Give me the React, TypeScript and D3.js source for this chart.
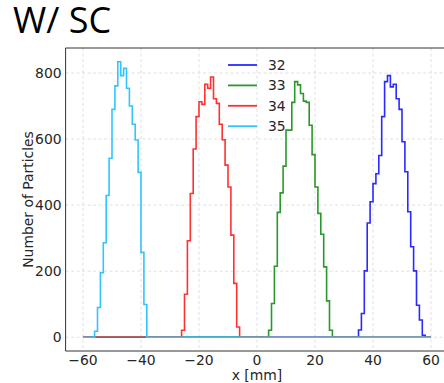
import React from "react";
import * as d3 from "d3";

// ---- data ----
const histRange = [-60, 60];
const binWidth = 1;
const seriesLabels = ["32", "33", "34", "35"];
const seriesColors = ["#2a2aff", "#2a982a", "#ff3030", "#33c4ff"];

// first bin edge (mm) of the non-empty part, then counts per 1 mm bin
const start32 = 35;
const counts32 = [22, 72, 201, 346, 410, 465, 495, 550, 668, 774, 792, 758, 766, 722, 690, 592, 501, 380, 274, 201, 97, 52, 6];
const start33 = 4;
const counts33 = [21, 102, 215, 378, 437, 518, 627, 627, 711, 774, 764, 738, 715, 711, 642, 553, 455, 375, 312, 213, 110, 21];
const start34 = -26;
const counts34 = [21, 130, 292, 435, 570, 668, 713, 705, 766, 754, 788, 722, 708, 645, 598, 521, 455, 309, 163, 31];
const start35 = -56;
const counts35 = [18, 90, 195, 286, 429, 542, 690, 761, 834, 792, 814, 754, 700, 645, 597, 499, 257, 99];

const xTicks = [-60, -40, -20, 0, 20, 40, 60];
const yTicks = [0, 200, 400, 600, 800];
const titleText = "W/ SC";
const xLabel = "x [mm]";
const yLabel = "Number of Particles";

const W = 444;
const H = 383;

function fullCounts(start: number, counts: number[]) {
  const n = Math.round((histRange[1] - histRange[0]) / binWidth);
  const arr: number[] = new Array(n).fill(0);
  const off = Math.round((start - histRange[0]) / binWidth);
  counts.forEach((c, i) => (arr[off + i] = c));
  return arr;
}

export default function App() {
  const series = [
    fullCounts(start32, counts32),
    fullCounts(start33, counts33),
    fullCounts(start34, counts34),
    fullCounts(start35, counts35),
  ];
  const ymax = d3.max(series.flat()) as number;
  const xm = (histRange[1] - histRange[0]) * 0.05;
  const ym = ymax * 0.05;

  const left = 65.6, bottom = 351, top = 48;
  const x = d3.scaleLinear().domain([histRange[0] - xm, histRange[1] + xm]).range([left, 448.4]);
  const y = d3.scaleLinear().domain([-ym, ymax + ym]).range([bottom, top]);

  const line = d3
    .line<[number, number]>()
    .x((d) => x(d[0]))
    .y((d) => y(d[1]));

  const paths = series.map((arr) => {
    const pts: [number, number][] = [[histRange[0], 0]];
    arr.forEach((v, i) => {
      const e0 = histRange[0] + i * binWidth;
      pts.push([e0, v]);
      pts.push([e0 + binWidth, v]);
    });
    pts.push([histRange[1], 0]);
    return line(pts) as string;
  });

  const tickFont = "DejaVu Sans, sans-serif";
  const textColor = "#262626";

  return (
    <svg width={W} height={H} style={{ position: "absolute", left: 0, top: 0, background: "#fff" }}>
      <rect x={0} y={0} width={W} height={H} fill="#fff" />
      <text x={13} y={33} fontFamily="Open Sans, Noto Sans, sans-serif" fontSize={36} fill="#000">
        {titleText}
      </text>
      {/* grid */}
      {xTicks.map((t) => (
        <line key={"gx" + t} x1={x(t)} x2={x(t)} y1={top} y2={bottom} stroke="#d8d8d8" strokeWidth={0.8} strokeDasharray="3,2.5" />
      ))}
      {yTicks.map((t) => (
        <line key={"gy" + t} x1={left} x2={W} y1={y(t)} y2={y(t)} stroke="#d8d8d8" strokeWidth={0.8} strokeDasharray="3,2.5" />
      ))}
      {/* series */}
      {paths.map((d, i) => (
        <path key={i} d={d} fill="none" stroke={seriesColors[i]} strokeWidth={1.6} strokeLinejoin="miter" />
      ))}
      {/* spines */}
      <line x1={left} x2={left} y1={top} y2={bottom} stroke="#333" strokeWidth={1} />
      <line x1={left} x2={W} y1={bottom} y2={bottom} stroke="#333" strokeWidth={1} />
      <line x1={left} x2={W} y1={top} y2={top} stroke="#333" strokeWidth={1} />
      {/* tick labels */}
      {xTicks.map((t) => (
        <text key={"tx" + t} x={x(t)} y={bottom + 14} textAnchor="middle" fontFamily={tickFont} fontSize={13.9} fill={textColor}>
          {t < 0 ? "\u2212" + Math.abs(t) : String(t)}
        </text>
      ))}
      {yTicks.map((t) => (
        <text key={"ty" + t} x={left - 4} y={y(t) + 5} textAnchor="end" fontFamily={tickFont} fontSize={13.9} fill={textColor}>
          {t}
        </text>
      ))}
      <text x={x(0)} y={379.5} textAnchor="middle" fontFamily={tickFont} fontSize={13.9} fill={textColor}>
        {xLabel}
      </text>
      <text
        transform={`translate(33, ${(top + bottom) / 2}) rotate(-90)`}
        textAnchor="middle"
        fontFamily={tickFont}
        fontSize={13.9}
        fill={textColor}
      >
        {yLabel}
      </text>
      {/* legend */}
      {seriesLabels.map((s, i) => {
        const ly = 65 + i * 20.4;
        return (
          <g key={"lg" + s}>
            <line x1={228} x2={257} y1={ly} y2={ly} stroke={seriesColors[i]} strokeWidth={1.8} />
            <text x={268} y={ly + 5} fontFamily={tickFont} fontSize={13.9} fill={textColor}>
              {s}
            </text>
          </g>
        );
      })}
    </svg>
  );
}
